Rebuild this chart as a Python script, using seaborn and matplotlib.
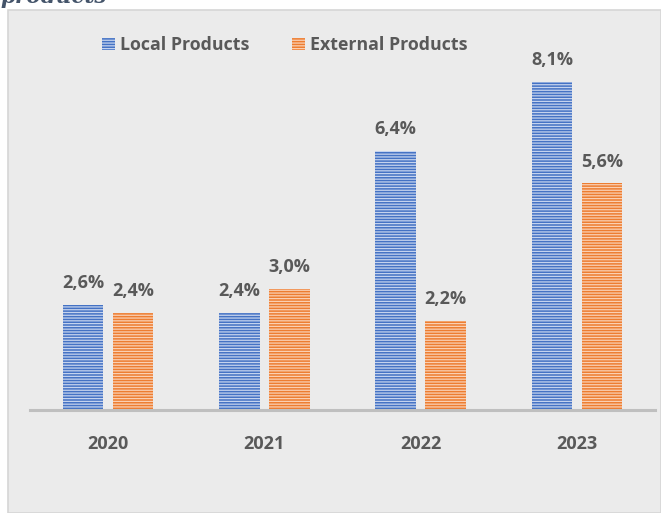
import matplotlib
matplotlib.use("Agg")
import matplotlib.pyplot as plt
from matplotlib.patches import Rectangle, Patch
import seaborn as sns
import pandas as pd

years = ["2020", "2021", "2022", "2023"]
local_values = [2.6, 2.4, 6.4, 8.1]
external_values = [2.4, 3.0, 2.2, 5.6]
series_names = ["Local Products", "External Products"]
value_labels_local = ["2,6%", "2,4%", "6,4%", "8,1%"]
value_labels_external = ["2,4%", "3,0%", "2,2%", "5,6%"]

blue, blue_stripe = "#4472c4", "#c5d3ee"
orange, orange_stripe = "#ed7d31", "#fad0b3"
text_grey = "#595959"
font_list = ["Open Sans", "DejaVu Sans"]

df = pd.DataFrame({
    "year": years * 2,
    "value": local_values + external_values,
    "series": [series_names[0]] * 4 + [series_names[1]] * 4,
})

sns.set_theme(style="white")
plt.rcParams["font.family"] = font_list
plt.rcParams["hatch.linewidth"] = 0.9

W, H = 661, 513
fig = plt.figure(figsize=(W / 100, H / 100), dpi=100)
fig.patch.set_facecolor("white")

# grey chart panel with thin border on the left/top
panel = Rectangle((8 / W, 0), 1 - 8 / W, 1 - 10 / H, transform=fig.transFigure,
                  facecolor="#ebebeb", edgecolor="#d6d6d6", linewidth=1.2, zorder=-5)
fig.patches.append(panel)

# clipped heading above the panel
fig.text(0.0, 1 - 3 / H, "products", fontsize=15.5, style="italic", fontweight="bold",
         family="DejaVu Serif", color="#44546a", va="baseline", ha="left")

baseline_px = 410
px_per_unit = 40.5
ymax = 9.0
ax_h = ymax * px_per_unit
ax = fig.add_axes([30 / W, (H - baseline_px) / H, 625 / W, ax_h / H])
ax.set_facecolor("none")
ax.set_zorder(2)

sns.barplot(data=df, x="year", y="value", hue="series", ax=ax,
            palette=[blue, orange], width=0.64, gap=0.19, legend=False,
            saturation=1)

for cont, fc, stripe in zip(ax.containers, [blue, orange], [blue_stripe, orange_stripe]):
    for p in cont:
        p.set_facecolor(fc)
        p.set_edgecolor(stripe)
        p.set_linewidth(0)
        p.set_hatch("------")

for cont, labels in zip(ax.containers, [value_labels_local, value_labels_external]):
    ax.bar_label(cont, labels=labels, padding=9, fontsize=13, fontweight="bold",
                 color=text_grey)

ax.set_xlim(-0.5, 3.5)
ax.set_ylim(0, ymax)
ax.set_xlabel("")
ax.set_ylabel("")
ax.set_yticks([])
for s in ["top", "left", "right"]:
    ax.spines[s].set_visible(False)
ax.spines["bottom"].set_color("#bfbfbf")
ax.spines["bottom"].set_linewidth(2.2)
ax.tick_params(axis="x", length=0, pad=18, labelsize=13, labelcolor=text_grey)
for t in ax.get_xticklabels():
    t.set_fontweight("bold")

handles = [Patch(facecolor=blue, edgecolor=blue_stripe, linewidth=0, hatch="------"),
           Patch(facecolor=orange, edgecolor=orange_stripe, linewidth=0, hatch="------")]
leg = fig.legend(handles, series_names, loc="center", bbox_to_anchor=(285 / W, 1 - 45 / H),
                 ncol=2, frameon=False, handlelength=0.7, handleheight=0.7,
                 handletextpad=0.3, columnspacing=2.4,
                 prop={"family": font_list, "weight": "bold", "size": 12.8})
for t in leg.get_texts():
    t.set_color(text_grey)

fig.savefig("out.png", dpi=100, facecolor=fig.get_facecolor())
